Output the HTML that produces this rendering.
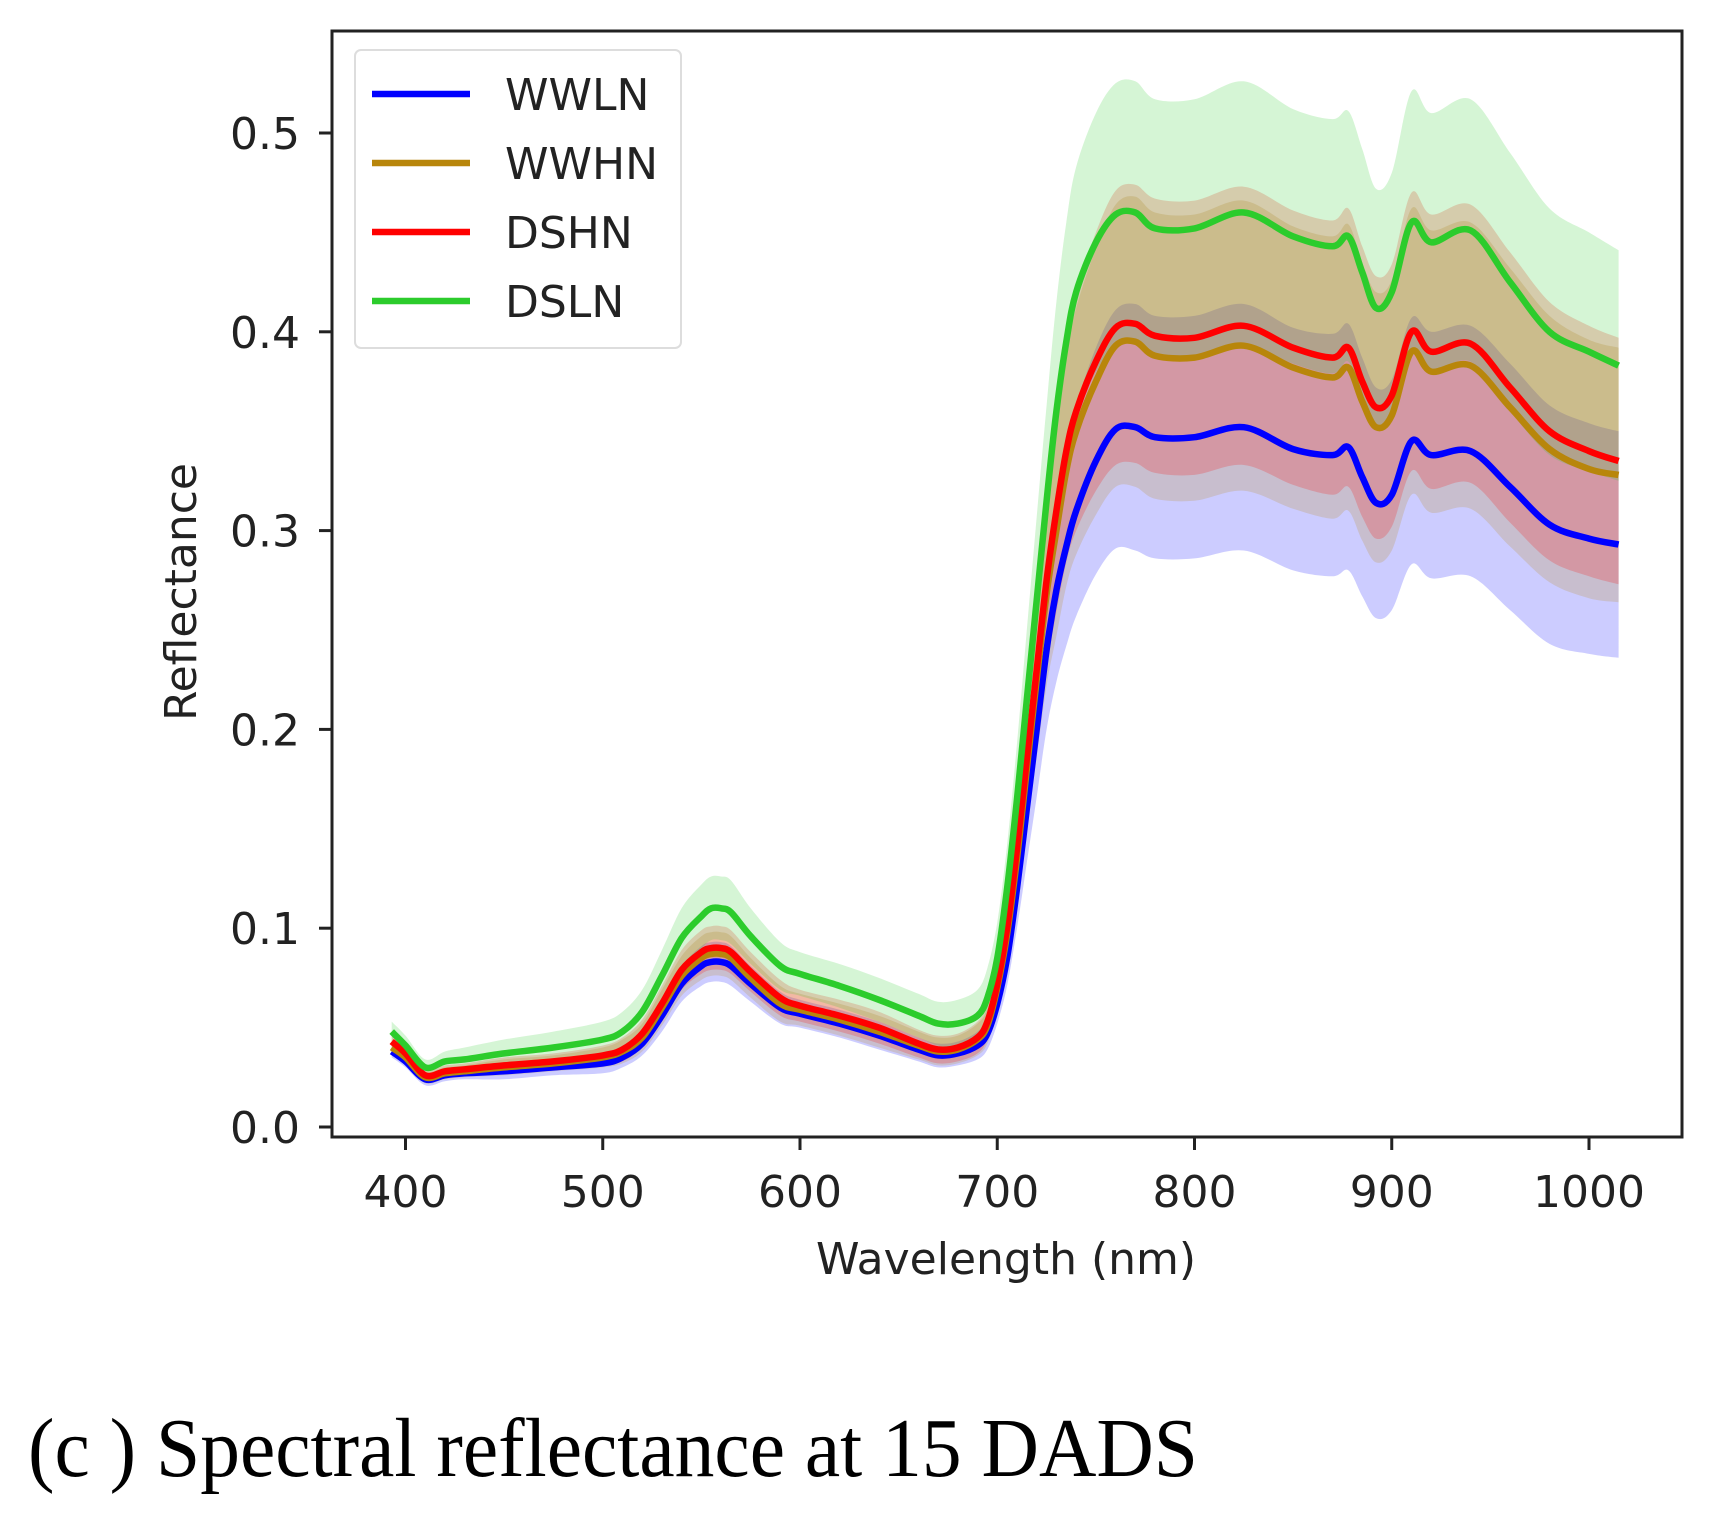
<!DOCTYPE html>
<html><head><meta charset="utf-8"><style>
html,body{margin:0;padding:0;background:#fff;}
svg{display:block;}
text{font-family:"DejaVu Sans","Liberation Sans",sans-serif;fill:#222;}
</style></head><body>
<svg id="chart" width="1733" height="1536" viewBox="0 0 1733 1536" xmlns="http://www.w3.org/2000/svg">
<g id="bands"></g>
<g id="lines"></g>
<rect x="332" y="31" width="1350" height="1106" fill="none" stroke="#222" stroke-width="3"/>
<g id="xticks"></g>
<g id="yticks"></g>
<text x="1006" y="1274" font-size="44" text-anchor="middle">Wavelength (nm)</text>
<text x="0" y="0" font-size="44" text-anchor="middle" transform="translate(196,592) rotate(-90)">Reflectance</text>
<g>
<rect x="355" y="50" width="326" height="298" rx="6" fill="#fff" stroke="#ddd" stroke-width="2"/>
<g id="legend-entries"></g>
</g>
<text x="28" y="1476" font-size="84" style="font-family:'Liberation Serif',serif;fill:#000" textLength="1170" lengthAdjust="spacingAndGlyphs">(c ) Spectral reflectance at 15 DADS</text>
</svg>
<script>
const wavelengths=[393,400,410,420,430,450,475,500,510,520,530,540,550,555,560,565,575,590,600,620,640,660,670,680,690,695,700,705,710,715,720,725,730,735,740,750,760,770,780,800,825,850,870,878,885,892,900,910,920,940,960,980,1000,1015];
const seriesNames=["WWLN","WWHN","DSHN","DSLN"];
const wwlnMean=[.038,.033,.024,.026,.027,.028,.030,.032,.035,.042,.056,.072,.081,.083,.083,.081,.072,.060,.057,.052,.046,.039,.036,.037,.041,.047,.062,.085,.12,.16,.2,.24,.27,.292,.31,.335,.351,.352,.347,.347,.352,.341,.338,.342,.327,.314,.318,.345,.338,.340,.322,.303,.296,.293];
const wwhnMean=[.040,.035,.025,.027,.028,.030,.032,.035,.038,.045,.060,.076,.085,.087,.087,.085,.075,.062,.059,.054,.048,.041,.038,.039,.044,.051,.07,.097,.135,.18,.225,.268,.30,.33,.35,.375,.393,.395,.388,.387,.393,.382,.377,.382,.365,.352,.358,.390,.380,.383,.362,.341,.331,.328];
const dshnMean=[.043,.037,.026,.028,.029,.031,.033,.036,.039,.047,.062,.079,.088,.090,.090,.088,.078,.065,.061,.056,.050,.042,.039,.040,.045,.053,.072,.1,.14,.185,.23,.275,.31,.34,.36,.385,.402,.404,.398,.397,.403,.392,.387,.392,.375,.362,.368,.400,.390,.394,.372,.350,.340,.335];
const dslnMean=[.048,.041,.030,.033,.034,.037,.040,.044,.048,.058,.076,.095,.106,.110,.110,.108,.096,.081,.077,.071,.064,.056,.052,.052,.056,.065,.085,.12,.165,.215,.265,.315,.36,.395,.42,.445,.459,.460,.452,.452,.460,.448,.443,.448,.430,.412,.420,.455,.445,.451,.425,.400,.390,.383];
const wwlnSd=[.003,.003,.003,.003,.003,.004,.004,.005,.005,.006,.008,.009,.010,.010,.010,.010,.009,.008,.007,.007,.007,.006,.006,.006,.007,.008,.010,.014,.02,.027,.034,.040,.046,.050,.053,.057,.060,.062,.061,.061,.062,.061,.061,.062,.060,.058,.058,.062,.062,.063,.062,.060,.058,.057];
const wwhnSd=[.004,.004,.003,.003,.003,.004,.004,.005,.006,.007,.009,.010,.011,.011,.011,.011,.010,.009,.008,.008,.008,.007,.007,.007,.008,.009,.012,.016,.023,.031,.039,.046,.053,.058,.062,.067,.071,.073,.072,.072,.073,.071,.071,.072,.070,.068,.068,.072,.071,.072,.070,.067,.065,.064];
const dshnSd=[.004,.004,.003,.003,.003,.004,.004,.005,.006,.007,.009,.010,.011,.011,.011,.011,.010,.009,.008,.008,.008,.007,.007,.007,.008,.009,.012,.016,.022,.030,.038,.045,.051,.056,.060,.065,.069,.070,.069,.069,.070,.069,.069,.070,.068,.066,.066,.070,.069,.070,.068,.065,.063,.062];
const dslnSd=[.005,.005,.004,.005,.006,.007,.008,.009,.010,.011,.013,.015,.016,.016,.016,.016,.014,.012,.011,.011,.011,.011,.011,.012,.013,.015,.018,.022,.028,.035,.042,.048,.055,.060,.063,.065,.066,.066,.065,.065,.066,.064,.064,.063,.062,.060,.060,.066,.065,.066,.065,.062,.060,.058];
const xTicks=[400,500,600,700,800,900,1000];
const yTicks=[0.0,0.1,0.2,0.3,0.4,0.5];
const yTickLabels=["0.0","0.1","0.2","0.3","0.4","0.5"];

const NS="http://www.w3.org/2000/svg";
const colors=["#0000ff","#b8860b","#ff0000","#2ccc2c"];
const means=[wwlnMean,wwhnMean,dshnMean,dslnMean];
const sds=[wwlnSd,wwhnSd,dshnSd,dslnSd];
function xs(w){return 405.5+(w-400)*1.9725;}
function ys(v){return 1127-v*1988;}
function smooth(pts){
  let d="M"+pts[0][0].toFixed(1)+","+pts[0][1].toFixed(1);
  for(let i=0;i<pts.length-1;i++){
    const p0=pts[Math.max(0,i-1)],p1=pts[i],p2=pts[i+1],p3=pts[Math.min(pts.length-1,i+2)];
    const c1=[p1[0]+(p2[0]-p0[0])/6,p1[1]+(p2[1]-p0[1])/6];
    const c2=[p2[0]-(p3[0]-p1[0])/6,p2[1]-(p3[1]-p1[1])/6];
    d+=" C"+c1[0].toFixed(1)+","+c1[1].toFixed(1)+" "+c2[0].toFixed(1)+","+c2[1].toFixed(1)+" "+p2[0].toFixed(1)+","+p2[1].toFixed(1);
  }
  return d;
}
const bands=document.getElementById("bands"),lines=document.getElementById("lines");
for(let s=0;s<4;s++){
  const up=wavelengths.map((w,i)=>[xs(w),ys(means[s][i]+sds[s][i])]);
  const lo=wavelengths.map((w,i)=>[xs(w),ys(means[s][i]-sds[s][i])]).reverse();
  const up2=smooth(up), lo2=smooth(lo).replace(/^M/," L");
  const band=document.createElementNS(NS,"path");
  band.setAttribute("d",up2+lo2+" Z");
  band.setAttribute("fill",colors[s]);band.setAttribute("fill-opacity","0.2");
  
  
  bands.appendChild(band);
  const ln=document.createElementNS(NS,"path");
  ln.setAttribute("d",smooth(wavelengths.map((w,i)=>[xs(w),ys(means[s][i])])));
  ln.setAttribute("fill","none");ln.setAttribute("stroke",colors[s]);ln.setAttribute("stroke-width","6.5");
  
  
  lines.appendChild(ln);
}
const xg=document.getElementById("xticks");
xTicks.forEach(t=>{
  const l=document.createElementNS(NS,"line");
  l.setAttribute("x1",xs(t));l.setAttribute("x2",xs(t));l.setAttribute("y1",1137);l.setAttribute("y2",1150);
  l.setAttribute("stroke","#222");l.setAttribute("stroke-width","3");
  
  
  xg.appendChild(l);
  const tx=document.createElementNS(NS,"text");
  tx.setAttribute("x",xs(t));tx.setAttribute("y",1207);tx.setAttribute("font-size","44");tx.setAttribute("text-anchor","middle");
  tx.textContent=t;
  
  
  xg.appendChild(tx);
});
const yg=document.getElementById("yticks");
yTicks.forEach((t,i)=>{
  const l=document.createElementNS(NS,"line");
  l.setAttribute("x1",319);l.setAttribute("x2",332);l.setAttribute("y1",ys(t));l.setAttribute("y2",ys(t));
  l.setAttribute("stroke","#222");l.setAttribute("stroke-width","3");
  
  
  yg.appendChild(l);
  const tx=document.createElementNS(NS,"text");
  tx.setAttribute("x",300);tx.setAttribute("y",ys(t)+16);tx.setAttribute("font-size","44");tx.setAttribute("text-anchor","end");
  tx.textContent=yTickLabels[i];
  
  
  yg.appendChild(tx);
});
const lg=document.getElementById("legend-entries");
seriesNames.forEach((n,i)=>{
  const y=94+i*69;
  const l=document.createElementNS(NS,"line");
  l.setAttribute("x1",372);l.setAttribute("x2",470);l.setAttribute("y1",y);l.setAttribute("y2",y);
  l.setAttribute("stroke",colors[i]);l.setAttribute("stroke-width","6.5");
  
  
  lg.appendChild(l);
  const tx=document.createElementNS(NS,"text");
  tx.setAttribute("x",505);tx.setAttribute("y",y+16);tx.setAttribute("font-size","44");
  tx.textContent=n;
  
  
  lg.appendChild(tx);
});
</script>
</body></html>
